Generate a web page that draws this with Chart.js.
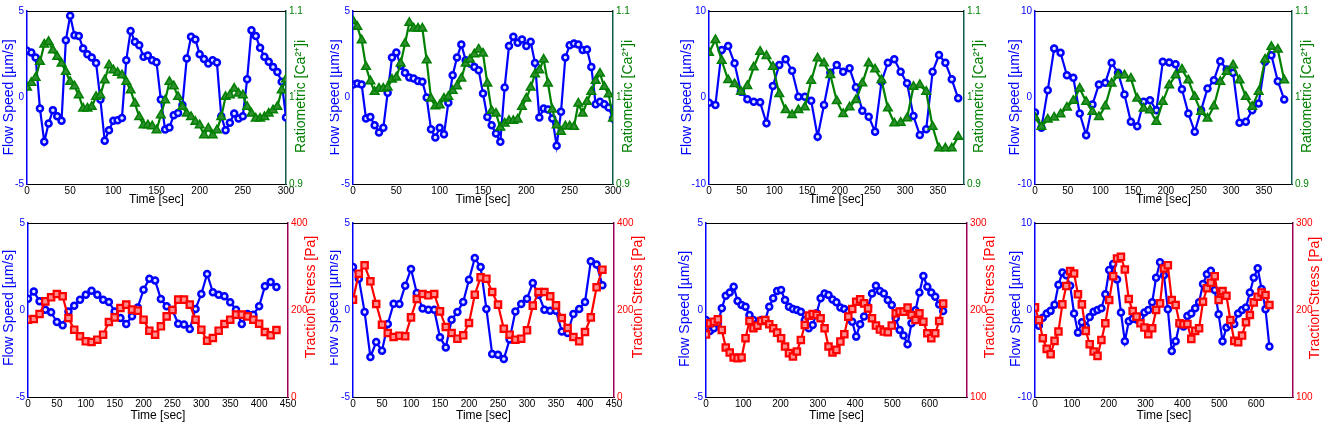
<!DOCTYPE html>
<html lang="en">
<head>
  <meta charset="UTF-8">
  <title>Flow speed, calcium and traction stress</title>
  <script src="https://cdn.jsdelivr.net/npm/chart.js"></script>
  <style>
    body {
      margin: 0;
      background: #ffffff;
    }
    #page {
      position: relative;
      width: 1328px;
      height: 428px;
      overflow: hidden;
    }
    #page canvas {
      position: absolute;
    }
  </style>
</head>
<body>
  <div id="page">
    <canvas id="c1"></canvas>
    <canvas id="c2"></canvas>
    <canvas id="c3"></canvas>
    <canvas id="c4"></canvas>
    <canvas id="c5"></canvas>
    <canvas id="c6"></canvas>
    <canvas id="c7"></canvas>
    <canvas id="c8"></canvas>
  </div>

  <script>
    // ---- time axes (sec) ----
    const timeA = [0, 5, 10, 15, 20, 25, 30, 35, 40, 45, 50, 55, 60, 65, 70, 75, 80, 85, 90, 95,
      100, 105, 110, 115, 120, 125, 130, 135, 140, 145, 150, 155, 160, 165, 170, 175, 180, 185, 190, 195,
      200, 205, 210, 215, 220, 225, 230, 235, 240, 245, 250, 255, 260, 265, 270, 275, 280, 285, 290, 295, 300];
    const timeB = [0, 9.8, 19.5, 29.3, 39.1, 48.8, 58.6, 68.4, 78.2, 87.9, 97.7, 107.5, 117.2, 127, 136.8,
      146.6, 156.3, 166.1, 175.9, 185.6, 195.4, 205.2, 215, 224.7, 234.5, 244.3, 254, 263.8, 273.6, 283.4,
      293.1, 302.9, 312.7, 322.4, 332.2, 342, 351.8, 361.5, 371.3, 381.1];
    const timeC = [0, 10, 20, 30, 40, 50, 60, 70, 80, 90, 100, 110, 120, 130, 140, 150, 160, 170, 180, 190,
      200, 210, 220, 230, 240, 250, 260, 270, 280, 290, 300, 310, 320, 330, 340, 350, 360, 370, 380, 390,
      400, 410, 420, 430];
    const timeD = [0, 10.6, 21.2, 31.8, 42.4, 53, 63.6, 74.2, 84.8, 95.4, 106, 116.6, 127.2, 137.8, 148.4,
      159, 169.6, 180.2, 190.8, 201.4, 212, 222.6, 233.2, 243.8, 254.4, 265, 275.6, 286.2, 296.8, 307.4,
      318, 328.6, 339.2, 349.8, 360.4, 371, 381.6, 392.2, 402.8, 413.4, 424, 434.6, 445.2, 455.8, 466.4,
      477, 487.6, 498.2, 508.8, 519.4, 530, 540.6, 551.2, 561.8, 572.4, 583, 593.6, 604.2, 614.8, 625.4, 636];

    // ---- flow speed [um/s] ----
    const flow1 = [2.70, 2.60, 2.31, -0.64, -2.56, -1.50, -0.73, -1.08, -1.35, 3.31, 4.72, 3.60, 3.56, 2.83, 2.50,
      2.31, 2.00, -0.12, -2.50, -1.89, -1.35, -1.31, -1.18, 2.16, 3.85, 3.22, 3.02, 2.35, 2.43, 2.16, 2.04,
      -0.12, -1.85, -1.73, -1.02, -0.89, -0.44, 2.25, 3.51, 3.35, 2.50, 2.22, 1.97, 2.16, 2.02, -1.08, -1.89,
      -1.46, -0.92, -1.21, -1.08, 1.06, 3.89, 3.56, 2.87, 2.35, 2.06, 1.77, 1.48, 0.91, -1.16];
    const flow2 = [0.75, 0.81, 0.75, -1.21, -1.12, -1.60, -2.02, -1.75, 0.27, 2.31, 2.60, 1.83, 1.43, 1.16, 1.10,
      0.96, 0.91, 0, -1.83, -2.31, -1.75, -2.12, -0.31, 1.29, 2.31, 3.06, 2.16, 1.97, 1.77, 1.58, 0.23,
      -1.12, -1.60, -2.08, -2.56, 0.58, 2.97, 3.51, 3.16, 3.35, 2.97, 3.22, 2.00, -1.16, -0.64, -0.69, -1.21,
      -2.79, -0.83, 2.31, 3.02, 3.12, 3.06, 2.74, 2.77, 1.77, -0.39, -0.25, -0.39, -0.58, -1.21];
    const flow3 = [-0.60, -0.87, 5.49, 5.95, 3.95, 0.67, -0.21, -0.48, -0.56, -2.98, 1.33, 3.76, 4.42, 3.10, 0.09,
      0.09, -0.37, -4.53, -0.87, 2.87, 3.76, 2.98, 3.37, 1.18, -1.52, -2.22, -3.95, 1.83, 4.02, 4.42, 2.98,
      1.64, -2.14, -4.34, -3.68, 2.98, 4.91, 4.02, 2.10, -0.10];
    const flow4 = [-1.73, -3.51, 0.85, 5.66, 5.16, 2.58, 2.27, -1.85, -4.35, -0.81, 1.50, 1.70, 4.01, 2.85, 0.35,
      -2.81, -3.31, -0.50, -0.31, -1.46, 4.12, 4.05, 3.85, 0.96, -1.85, -3.97, -1.46, 1.04, 2.00, 4.20, 3.24,
      2.85, -2.93, -2.81, -1.46, -0.69, 4.12, 4.89, 1.89, -0.23];
    const flow5 = [0.65, 1.07, 0.50, 0.02, -0.13, -0.69, -0.88, -0.08, 0.25, 0.59, 0.88, 1.11, 0.88, 0.59, 0.46,
      -0.08, -0.46, -0.80, -0.36, 0.15, 1.17, 1.80, 1.69, 0.63, 0.21, 0.00, -0.79, -0.84, -1.09, 0.06, 0.92,
      2.07, 1.02, 0.88, 0.79, 0.44, 0.02, -0.80, -0.23, -0.27, 0.21, 1.36, 1.61, 1.32];
    const flow6 = [2.47, 1.80, -0.11, -2.70, -1.84, -2.34, -0.80, 0.36, 0.34, 1.40, 2.36, 0.98, 0.08, 0.02, 0.02,
      -1.57, -2.15, -0.56, -0.11, 0.46, 1.74, 2.99, 2.47, 0.06, -2.53, -2.57, -2.82, -1.70, -0.08, 0.34, 0.65,
      1.55, 0.88, 0.02, -0.04, -0.04, -1.23, -1.32, -0.23, 0.06, 0.46, 2.80, 2.61, 1.42];
    const flow7 = [-0.57, -1.20, -1.05, -0.76, 0.10, 0.82, 1.01, 1.34, 0.52, 0.29, 0.19, -0.29, -0.57, -0.76, -0.57,
      -0.57, 0.19, 0.67, 1.09, 1.15, 0.57, 0.19, 0.06, 0.00, -0.10, -0.57, -1.05, -0.86, -0.19, 0.67, 0.95,
      0.86, 0.61, 0.44, 0.15, 0.06, -0.10, -0.67, -1.53, -0.82, -0.38, 0.19, 0.95, 1.39, 1.09, 0.95, 0.57,
      0.29, -0.48, -1.15, -1.47, -1.97, -0.76, -0.02, 1.01, 1.95, 1.34, 1.01, 0.76, 0.32, -0.06];
    const flow8 = [-1.53, -1.8, -0.9, -0.4, -0.1, 0.6, 2.9, 4.3, 4.0, 2.8, -0.4, -2.6, -1.4, -1.9, -0.8, -0.2, 0.0,
      0.2, 1.8, 4.6, 5.3, 3.5, -0.3, -3.6, -1.3, -1.0, -1.1, -0.8, -0.3, 0.0, 0.9, 3.7, 5.5, 4.0, 0.1, -4.7,
      -3.6, -1.6, -1.9, -0.7, -0.4, 0.2, 0.9, 3.0, 4.1, 4.5, 2.3, -0.5, -3.6, -2.0, -1.7, -1.6, -0.4, 0.0,
      0.3, 2.0, 3.7, 4.8, 2.4, 0.1, -4.2];

    // ---- ratiometric [Ca2+]i ----
    const calcium1 = [1.0116, 1.0170, 1.0227, 1.0412, 1.0613, 1.0644, 1.0547, 1.0470, 1.0393, 1.0297, 1.0181,
      1.0131, 1.0027, 0.9873, 0.9873, 0.9892, 1.0008, 1.0027, 1.0200, 1.0374, 1.0316, 1.0285, 1.0258, 1.0181,
      1.0085, 0.9931, 0.9776, 0.9680, 0.9680, 0.9669, 0.9622, 0.9796, 0.9969, 1.0181, 1.0131, 1.0008, 0.9892,
      0.9815, 0.9776, 0.9719, 0.9680, 0.9565, 0.9642, 0.9565, 0.9622, 0.9776, 1.0008, 1.0027, 1.0104, 1.0046,
      1.0027, 0.9892, 0.9815, 0.9757, 0.9757, 0.9776, 0.9815, 0.9854, 0.9892, 1.0085, 1.0212];
    const calcium2 = [1.0886, 1.0817, 1.0663, 1.0355, 1.0189, 1.0066, 1.0104, 1.0104, 1.0116, 1.0208, 1.0231,
      1.0393, 1.0624, 1.0863, 1.0798, 1.0798, 1.0798, 1.0432, 0.9988, 0.9900, 0.9911, 0.9988, 1.0008, 1.0077,
      1.0131, 1.0220, 1.0393, 1.0439, 1.0501, 1.0555, 1.0509, 1.0162, 0.9846, 0.9815, 0.9653, 0.9700, 0.9730,
      0.9730, 0.9746, 0.9892, 0.9988, 1.0116, 1.0270, 1.0316, 1.0439, 1.0162, 0.9861, 0.9680, 0.9603, 0.9669,
      0.9669, 0.9661, 0.9931, 0.9815, 0.9950, 1.0066, 1.0193, 1.0277, 1.0123, 1.0039, 0.9757];
    const calcium3 = [1.0518, 1.0665, 1.0425, 1.0202, 1.0156, 1.0067, 1.0133, 1.0349, 1.0529, 1.0480, 1.0356,
      1.0040, 0.9855, 0.9798, 0.9855, 0.9887, 1.0194, 1.0453, 1.0395, 1.0260, 0.9960, 0.9810, 0.9887, 0.9971,
      1.0164, 1.0395, 1.0326, 1.0202, 0.9875, 0.9702, 0.9709, 0.9760, 1.0125, 1.0145, 1.0067, 0.9662, 0.9413,
      0.9413, 0.9413, 0.9547];
    const calcium4 = [0.9769, 0.9661, 0.9746, 0.9769, 0.9807, 0.9884, 0.9961, 1.0104, 0.9950, 0.9834, 0.9776,
      0.9900, 1.0162, 1.0258, 1.0258, 1.0220, 0.9988, 0.9873, 0.9854, 0.9719, 0.9950, 1.0143, 1.0258, 1.0324,
      1.0200, 1.0008, 0.9834, 0.9757, 0.9900, 1.0181, 1.0297, 1.0374, 1.0200, 1.0008, 0.9892, 1.0066, 1.0439,
      1.0586, 1.0555, 1.0200];

    // ---- traction stress [Pa] ----
    const stress5 = [177.8, 179.3, 190.8, 219.9, 229.1, 236.8, 231.4, 181.6, 154.8, 139.5, 128, 126.4, 131.8,
      143.3, 172.4, 183.1, 204.6, 212.3, 200.8, 198.5, 177.8, 152.5, 143.3, 162.5, 185.4, 200, 223.8, 223.8,
      212.3, 177.8, 154.8, 129.5, 135.6, 152.5, 167.8, 177.8, 189.3, 189.3, 185.4, 177.8, 168.6, 149.4, 141.8, 154];
    const stress6 = [223.8, 283.5, 302.7, 265.9, 213.8, 166.3, 147.1, 137.9, 141, 139.5, 183.1, 225.3, 236.8,
      233.7, 236.8, 196.9, 160.9, 147.1, 134.1, 141.8, 170.1, 235.2, 275.1, 272, 241.4, 212.3, 157.1, 143.3,
      131.8, 134.1, 153.3, 210, 241.4, 241.4, 231.4, 210.7, 181.6, 158.6, 137.9, 128, 149.4, 183.1, 252.1, 292.7];
    const stress7 = [172, 184.7, 186.6, 189.3, 177.1, 156.9, 151.1, 145.4, 144.7, 145.4, 167.6, 187.4, 179, 182,
      187.4, 188.5, 183.6, 179, 174, 167.6, 158, 150.4, 146.6, 152.3, 165.6, 182.8, 193.5, 195.4, 194.3, 190.5,
      179, 158, 151.1, 154.2, 163.7, 172.1, 192.4, 201.1, 209.5, 212.2, 207.6, 201.9, 190.5, 182.1, 177.5,
      175.2, 174.4, 182.1, 196.2, 198.1, 198.1, 202.7, 194.3, 188.5, 196.2, 186.6, 173.3, 167.6, 173.3, 187.4, 207.3];
    const stress8 = [203, 188.5, 167.6, 155.3, 149.2, 164.5, 175.2, 206.5, 227.5, 244.7, 242, 218, 206.5, 176,
      160.7, 152.3, 147.3, 165.6, 184.7, 211.5, 238.9, 259.2, 261.1, 246.6, 212.6, 198.9, 192.4, 184.7, 179.8,
      172.1, 179, 200, 207.6, 247.7, 251.5, 211.5, 205.7, 184.7, 183.6, 184, 166.8, 176, 179, 209.5, 225,
      231.4, 238.9, 211.5, 221.8, 216.4, 188.5, 164.5, 163, 170.6, 185.9, 194.3, 208.8, 215.3, 220.2, 217.2, 205.7];

    // ---- tick labels ----
    const xTicks300 = ['0', '50', '100', '150', '200', '250', '300'];
    const xTicks350 = ['0', '50', '100', '150', '200', '250', '300', '350'];
    const xTicks450 = ['0', '50', '100', '150', '200', '250', '300', '350', '400', '450'];
    const xTicks600 = ['0', '100', '200', '300', '400', '500', '600'];
    const flowTicks5 = ['-5', '0', '5'];
    const flowTicks10 = ['-10', '0', '10'];
    const calciumTicks = ['0.9', '1', '1.1'];
    const stressTicks400 = ['0', '200', '400'];
    const stressTicks300 = ['100', '200', '300'];

    const FONT = '"Liberation Sans", Arial, Helvetica, sans-serif';
    const BLUE = '#0000ff';
    const GREEN = '#008000';
    const RED = '#ff0000';

    const calciumStyle = {
      title: 'Ratiometric [Ca\u00b2\u207a]i', color: GREEN, axis: '#0d5c4a',
      pointStyle: 'triangle', radius: 5, fill: '#2f8f2f', borderWidth: 1.5
    };
    const stressStyle = {
      title: 'Traction Stress [Pa]', color: RED, axis: '#a0005a',
      pointStyle: 'rect', radius: 4.5, fill: '#ff9090', borderWidth: 2.2
    };

    const panels = [
      { id: 'c1', box: [0, 0, 330, 210], plot: [27, 286, 11, 184], time: timeA, flow: flow1, right: calcium1,
        xMax: 300, xTicks: xTicks300, flowTicks: flowTicks5, rightTicks: calciumTicks, style: calciumStyle,
        leftOff: 18, rightOff: 15.5, leftDy: 0, rightDy: -1, timeOff: 16 },
      { id: 'c2', box: [330, 0, 332, 210], plot: [353, 613, 11, 184], time: timeA, flow: flow2, right: calcium2,
        xMax: 300, xTicks: xTicks300, flowTicks: flowTicks5, rightTicks: calciumTicks, style: calciumStyle,
        leftOff: 18, rightOff: 15.5, leftDy: 0, rightDy: -1, timeOff: 16 },
      { id: 'c3', box: [662, 0, 333, 210], plot: [709, 964, 11, 184], time: timeB, flow: flow3, right: calcium3,
        xMax: 390, xTicks: xTicks350, flowTicks: flowTicks10, rightTicks: calciumTicks, style: calciumStyle,
        leftOff: 22, rightOff: 15.5, leftDy: 0, rightDy: -1, timeOff: 16 },
      { id: 'c4', box: [995, 0, 333, 210], plot: [1035, 1292, 11, 184], time: timeB, flow: flow4, right: calcium4,
        xMax: 393, xTicks: xTicks350, flowTicks: flowTicks10, rightTicks: calciumTicks, style: calciumStyle,
        leftOff: 20, rightOff: 15.5, leftDy: 0, rightDy: -1, timeOff: 16 },
      { id: 'c5', box: [0, 210, 330, 218], plot: [28, 288, 223, 397], time: timeC, flow: flow5, right: stress5,
        xMax: 450, xTicks: xTicks450, flowTicks: flowTicks5, rightTicks: stressTicks400, style: stressStyle,
        leftOff: 19, rightOff: 23, leftDy: -2, rightDy: -13, timeOff: 19 },
      { id: 'c6', box: [330, 210, 332, 218], plot: [353, 614, 223, 397], time: timeC, flow: flow6, right: stress6,
        xMax: 450, xTicks: xTicks450, flowTicks: flowTicks5, rightTicks: stressTicks400, style: stressStyle,
        leftOff: 19, rightOff: 24, leftDy: -2, rightDy: -13, timeOff: 19 },
      { id: 'c7', box: [662, 210, 333, 218], plot: [706, 967, 223, 397], time: timeD, flow: flow7, right: stress7,
        xMax: 700, xTicks: xTicks600, flowTicks: flowTicks5, rightTicks: stressTicks300, style: stressStyle,
        leftOff: 21, rightOff: 23, leftDy: -1, rightDy: -13, timeOff: 19 },
      { id: 'c8', box: [995, 210, 333, 218], plot: [1035, 1293, 223, 397], time: timeD, flow: flow8, right: stress8,
        xMax: 700, xTicks: xTicks600, flowTicks: flowTicks10, rightTicks: stressTicks300, style: stressStyle,
        leftOff: 19, rightOff: 22, leftDy: -1, rightDy: -12, timeOff: 19 }
    ];

    // rotated text (reads bottom to top, like MATLAB ylabels)
    function verticalText(ctx, text, x, y, color) {
      ctx.save();
      ctx.translate(x, y);
      ctx.rotate(-Math.PI / 2);
      ctx.fillStyle = color;
      ctx.fillText(text, 0, 0);
      ctx.restore();
    }

    function titlesPlugin(p) {
      return {
        id: 'titles_' + p.id,
        afterDraw(chart) {
          const a = chart.chartArea;
          const ctx = chart.ctx;
          const midX = (a.left + a.right) / 2;
          const midY = (a.top + a.bottom) / 2;
          ctx.save();
          // top box edge
          ctx.strokeStyle = '#000000';
          ctx.lineWidth = 1;
          ctx.beginPath();
          ctx.moveTo(a.left, Math.round(a.top) + 0.5);
          ctx.lineTo(a.right, Math.round(a.top) + 0.5);
          ctx.stroke();

          ctx.textAlign = 'center';
          ctx.textBaseline = 'middle';
          ctx.font = '14px ' + FONT;
          verticalText(ctx, 'Flow Speed [\u00b5m/s]', a.left - p.leftOff, midY + p.leftDy, BLUE);
          verticalText(ctx, p.style.title, a.right + p.rightOff, midY + p.rightDy, p.style.color);
          ctx.font = '12px ' + FONT;
          ctx.fillStyle = '#000000';
          ctx.fillText('Time [sec]', midX, a.bottom + p.timeOff);
          ctx.restore();
        }
      };
    }

    function tickSetter(labels) {
      return function(scale) {
        scale.ticks = labels.map(function(l) { return { value: Number(l) }; });
      };
    }

    function makePanel(p) {
      const canvas = document.getElementById(p.id);
      const [bx, by, bw, bh] = p.box;
      const [pl, pr, pt, pb] = p.plot;
      canvas.width = bw;
      canvas.height = bh;
      canvas.style.left = bx + 'px';
      canvas.style.top = by + 'px';

      const leftW = pl - bx;
      const rightW = bx + bw - pr;
      const bottomH = by + bh - pb;
      const st = p.style;
      const rightLimits = p.rightTicks.map(Number);
      const flowLimits = p.flowTicks.map(Number);

      new Chart(canvas, {
        type: 'line',
        data: {
          datasets: [{
            label: st.title,
            data: p.time.map(function(t, i) { return { x: t, y: p.right[i] }; }),
            yAxisID: 'y1',
            borderColor: st.color,
            backgroundColor: st.fill,
            borderWidth: 2.2,
            pointStyle: st.pointStyle,
            pointRadius: st.radius,
            pointBorderWidth: st.borderWidth,
            pointBorderColor: st.color,
            pointBackgroundColor: st.fill,
            tension: 0,
            order: 0
          }, {
            label: 'Flow Speed',
            data: p.time.map(function(t, i) { return { x: t, y: p.flow[i] }; }),
            yAxisID: 'y',
            borderColor: BLUE,
            backgroundColor: '#ffffff',
            borderWidth: 2.2,
            pointStyle: 'circle',
            pointRadius: 3,
            pointBorderWidth: 2.5,
            pointBorderColor: BLUE,
            pointBackgroundColor: '#dfe4ff',
            tension: 0,
            order: 1
          }]
        },
        options: {
          responsive: false,
          animation: false,
          devicePixelRatio: 1,
          layout: { padding: { top: pt - by, left: 0, right: 0, bottom: 0 } },
          plugins: {
            legend: { display: false },
            tooltip: { enabled: false }
          },
          scales: {
            x: {
              type: 'linear',
              min: 0,
              max: p.xMax,
              afterBuildTicks: tickSetter(p.xTicks),
              afterFit: function(s) { s.height = bottomH; },
              grid: { display: false, drawTicks: false },
              border: { display: true, color: '#000000', width: 1 },
              ticks: {
                color: '#000000',
                font: { size: 10, family: FONT },
                padding: 1,
                autoSkip: false,
                maxRotation: 0,
                callback: function(v, i) { return p.xTicks[i]; }
              }
            },
            y: {
              position: 'left',
              min: flowLimits[0],
              max: flowLimits[flowLimits.length - 1],
              afterBuildTicks: tickSetter(p.flowTicks),
              afterFit: function(s) { s.width = leftW; },
              grid: { display: false, drawTicks: false },
              border: { display: true, color: BLUE, width: 1.5 },
              ticks: {
                color: BLUE,
                font: { size: 10, family: FONT },
                padding: 3,
                callback: function(v, i) { return p.flowTicks[i]; }
              }
            },
            y1: {
              position: 'right',
              min: rightLimits[0],
              max: rightLimits[rightLimits.length - 1],
              afterBuildTicks: tickSetter(p.rightTicks),
              afterFit: function(s) { s.width = rightW; },
              grid: { display: false, drawTicks: false },
              border: { display: true, color: st.axis, width: 1.5 },
              ticks: {
                color: st.color,
                font: { size: 10, family: FONT },
                padding: 3,
                callback: function(v, i) { return p.rightTicks[i]; }
              }
            }
          }
        },
        plugins: [titlesPlugin(p)]
      });
    }

    panels.forEach(makePanel);
  </script>
</body>
</html>
